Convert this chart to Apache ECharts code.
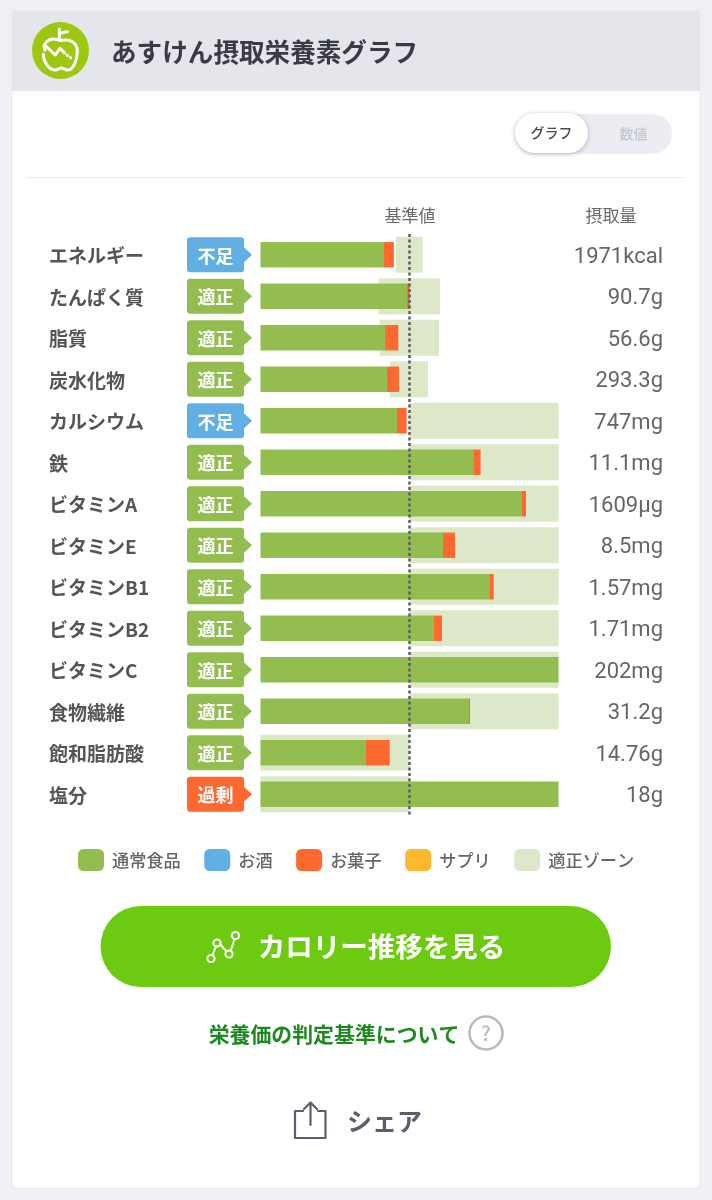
<!DOCTYPE html>
<html lang="ja">
<head>
<meta charset="utf-8">
<title>あすけん摂取栄養素グラフ</title>
<script src="https://cdn.jsdelivr.net/npm/echarts@6/dist/echarts.min.js"></script>
<style>html,body{margin:0;padding:0;background:#f0f1f6}#c{width:712px;height:1200px}</style>
</head>
<body>
<div id="c"></div>
<script>
const categories = ['エネルギー','たんぱく質','脂質','炭水化物','カルシウム','鉄','ビタミンA','ビタミンE','ビタミンB1','ビタミンB2','ビタミンC','食物繊維','飽和脂肪酸','塩分'];
const statuses = ['不足','適正','適正','適正','不足','適正','適正','適正','適正','適正','適正','適正','適正','過剰'];
const intakeLabels = ['1971kcal','90.7g','56.6g','293.3g','747mg','11.1mg','1609µg','8.5mg','1.57mg','1.71mg','202mg','31.2g','14.76g','18g'];
// Values are percent of the standard value (100 = dashed line), axis capped at 200
const foodValues = [82.9,98.3,83.6,84.9,91.6,142.8,175.5,122.5,154.0,116.4,200,139.9,70.8,200];
const alcoholValues = [0,0,0,0,0,0,0,0,0,0,0,0,0,0];
const sweetsValues = [6.6,2.0,8.9,8.1,6.5,4.9,2.7,8.1,2.5,5.4,0,0.7,15.9,0];
const supplementValues = [0,0,0,0,0,0,0,0,0,0,0,0,0,0];
const zoneStart = [90.9,79.3,80.0,86.9,100,100,100,100,100,100,100,100,0,0];
const zoneEnd = [108.7,120.5,119.8,112.4,200,200,200,200,200,200,200,200,100,100];
const legendNames = ['通常食品','お酒','お菓子','サプリ','適正ゾーン'];
const statusColors = {'不足':'#62b0e3','適正':'#93bd4f','過剰':'#ff682e'};
const colors = {food:'#93bd4f',alcohol:'#62b0e3',sweets:'#ff682e',supplement:'#ffb72e',zone:'#dce8c8'};

const FONT = '"Noto Sans CJK JP","Noto Sans",sans-serif';
const BADGE = 'path://M3 0H54Q57 0 57 3V10L65 17.5L57 25V32Q57 35 54 35H3Q0 35 0 32V3Q0 0 3 0Z';
const GRID = {top:234,height:581};

function txt(x,y,text,size,color,weight,align){
  return {type:'text',x:x,y:y,style:{text:text,fill:color,font:(weight||400)+' '+size+'px '+FONT,textAlign:align||'center',textVerticalAlign:'middle'}};
}
let shapeId = 0;
function stroke(x,y,sc,path,color,w){
  const name = 'iconPath'+(shapeId++);
  echarts.graphic.registerShape(name, echarts.graphic.extendPath(path));
  return {type:name,x:x,y:y,scaleX:sc,scaleY:sc,style:{fill:'none',stroke:color,lineWidth:w,lineCap:'round',lineJoin:'round'}};
}

const chrome = [
  {type:'rect',shape:{x:12,y:11,width:688,height:1177,r:3},style:{fill:'#fff',stroke:'#e9eaf0',lineWidth:1}},
  {type:'rect',shape:{x:12,y:11,width:688,height:80},style:{fill:'#e5e6ec'}},
  {type:'circle',shape:{cx:60.5,cy:50.5,r:28.5},style:{fill:'#9dc812'}},
  stroke(20,15,1/3,'M118 42V72M118 55L142 50M75 105C66 88 84 72 100 72C110 72 118 77 128 76C150 72 172 82 172 108C172 130 162 165 143 165C135 165 130 159 124 159C118 159 113 165 105 165C86 165 70 140 70 118','#fff',9),
  stroke(20,15,1/3,'M76 92L106 120L120 100L133 113','#fff',9),
  stroke(20,15,1/3,'M141 120L142 121M151 127L152 128','#fff',9),
  txt(111,52,'あすけん摂取栄養素グラフ',25.6,'#3a3b44',700,'left'),
  {type:'rect',shape:{x:515,y:114,width:157,height:40,r:20},style:{fill:'#ecedf3'}},
  {type:'rect',shape:{x:515,y:113,width:73,height:40,r:20},style:{fill:'#fff',shadowBlur:5,shadowColor:'rgba(60,60,80,.35)',shadowOffsetY:1}},
  txt(551.5,133,'グラフ',14,'#4a4b52',500),
  txt(633.5,134,'数値',14,'#c3c5cf',500),
  {type:'rect',shape:{x:26,y:177,width:659,height:1},style:{fill:'#e9eaef'}},
  txt(410,216,'基準値',17,'#6a6a6a',400),
  txt(611,216,'摂取量',17,'#6a6a6a',400),
  {type:'rect',shape:{x:100.5,y:906,width:510.5,height:81,r:40.5},style:{fill:'#6ccb10'}},
  stroke(0,0,1,'M212.5 955.5L216 946M220 944L226 951M231 950L234.5 939','#fff',2),
  {type:'circle',shape:{cx:211,cy:958.5,r:3.6},style:{fill:'none',stroke:'#fff',lineWidth:2}},
  {type:'circle',shape:{cx:217,cy:943,r:3.6},style:{fill:'none',stroke:'#fff',lineWidth:2}},
  {type:'circle',shape:{cx:229,cy:954,r:3.6},style:{fill:'none',stroke:'#fff',lineWidth:2}},
  {type:'circle',shape:{cx:235.5,cy:935.5,r:3.6},style:{fill:'none',stroke:'#fff',lineWidth:2}},
  txt(381.5,947,'カロリー推移を見る',27.5,'#fff',700),
  txt(334,1034,'栄養価の判定基準について',20.9,'#1c8a1e',700),
  {type:'circle',shape:{cx:486,cy:1033,r:16.5},style:{fill:'none',stroke:'#b9babd',lineWidth:2.5}},
  txt(486,1033,'?',20,'#b9babd',500),
  stroke(0,0,1,'M303 1111H295V1138H325.5V1111H318M310.5 1125V1103M304 1109L310.5 1102.5L317 1109','#5b5e6e',2.2),
  txt(347,1121,'シェア',25,'#5b5e6e',700,'left')
];

const chart = echarts.init(document.getElementById('c'),null,{renderer:'canvas',width:712,height:1200});
chart.setOption({
  animation:false,
  backgroundColor:'#f0f1f6',
  textStyle:{fontFamily:FONT},
  graphic:{elements:chrome},
  legend:{
    left:78,top:849,itemWidth:26,itemHeight:22,itemGap:23.5,padding:0,
    icon:'roundRect',selectedMode:false,data:legendNames,
    textStyle:{fontSize:17.2,fontWeight:500,color:'#666',fontFamily:FONT,padding:[1,0,0,3]}
  },
  grid:[
    {left:260.5,width:298,top:GRID.top,height:GRID.height},
    {left:187,width:65,top:GRID.top,height:GRID.height}
  ],
  xAxis:[
    {type:'value',gridIndex:0,min:0,max:200,show:false},
    {type:'value',gridIndex:1,min:0,max:1,show:false}
  ],
  yAxis:[
    {type:'category',gridIndex:0,position:'left',inverse:true,data:categories,
     axisLine:{show:false},axisTick:{show:false},splitLine:{show:false},
     axisLabel:{interval:0,align:'left',verticalAlign:'top',lineHeight:3,margin:211.5,fontSize:19,fontWeight:700,color:'#555',fontFamily:FONT}},
    {type:'category',gridIndex:0,position:'right',inverse:true,data:intakeLabels,
     axisLine:{show:false},axisTick:{show:false},splitLine:{show:false},
     axisLabel:{interval:0,align:'right',verticalAlign:'top',lineHeight:5,margin:104.5,fontSize:22,color:'#666',fontFamily:'Roboto,sans-serif'}},
    {type:'category',gridIndex:1,inverse:true,data:categories,show:false}
  ],
  series:[
    {name:'zoneOffset',type:'bar',xAxisIndex:0,yAxisIndex:0,stack:'zone',barWidth:36,silent:true,
     itemStyle:{color:'transparent'},data:zoneStart},
    {name:'適正ゾーン',type:'bar',xAxisIndex:0,yAxisIndex:0,stack:'zone',barWidth:36,silent:true,
     itemStyle:{color:colors.zone},data:zoneEnd.map((v,i)=>v-zoneStart[i])},
    {name:'通常食品',type:'bar',xAxisIndex:0,yAxisIndex:1,stack:'intake',barWidth:25.4,silent:true,
     itemStyle:{color:colors.food},data:foodValues,
     markLine:{silent:true,symbol:'none',z:10,label:{show:false},
       lineStyle:{color:'#5c5d63',type:[3,2.5],width:2.5},data:[{xAxis:100}]}},
    {name:'お酒',type:'bar',xAxisIndex:0,yAxisIndex:1,stack:'intake',barWidth:25.4,silent:true,
     itemStyle:{color:colors.alcohol},data:alcoholValues},
    {name:'お菓子',type:'bar',xAxisIndex:0,yAxisIndex:1,stack:'intake',barWidth:25.4,silent:true,
     itemStyle:{color:colors.sweets},data:sweetsValues},
    {name:'サプリ',type:'bar',xAxisIndex:0,yAxisIndex:1,stack:'intake',barWidth:25.4,silent:true,
     itemStyle:{color:colors.supplement},data:supplementValues},
    {name:'badge',type:'scatter',xAxisIndex:1,yAxisIndex:2,silent:true,symbol:BADGE,symbolSize:[65,35],
     data:statuses.map((s,i)=>({value:[0.5,i],itemStyle:{color:statusColors[s],opacity:1},
       label:{formatter:s}})),
     label:{show:true,position:'inside',offset:[-4,1],fontSize:18,fontWeight:700,color:'#fff',fontFamily:FONT}}
  ]
});
</script>
</body>
</html>
